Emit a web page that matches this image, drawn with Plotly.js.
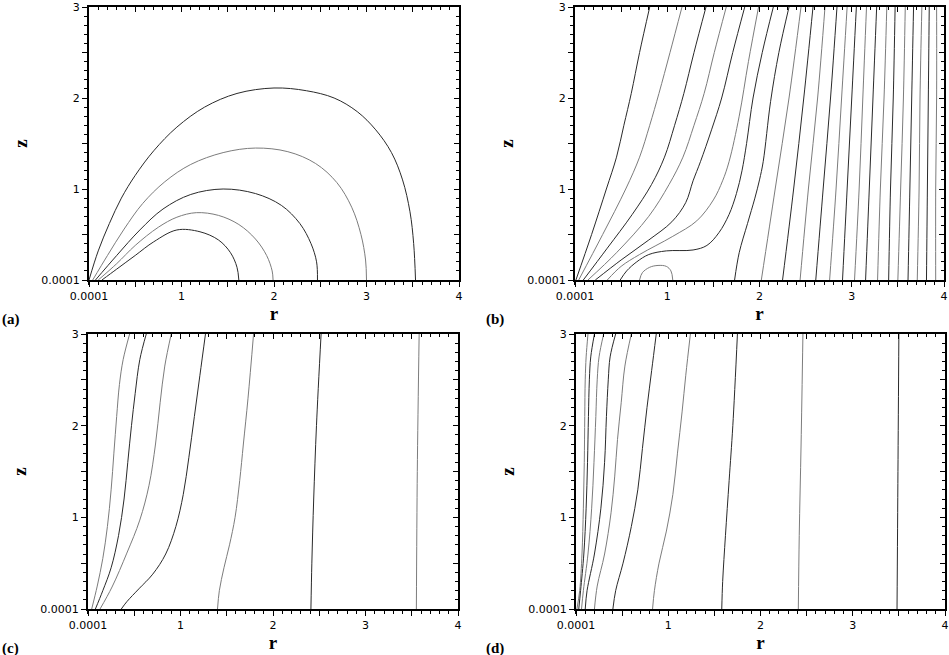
<!DOCTYPE html>
<html>
<head>
<meta charset="utf-8">
<script src="https://cdn.plot.ly/plotly-3.0.1.min.js"></script>
<style>html,body{margin:0;padding:0;background:#fff;}#chart{width:949px;height:655px;}</style>
</head>
<body>
<div id="chart"></div>
<script>
// ---------- tick labels ----------
const xTickVals = [0.0001, 0.5, 1, 1.5, 2, 2.5, 3, 3.5, 4];
const xTickText = ['0.0001', '', '1', '', '2', '', '3', '', '4'];
const yTickVals = [0.0001, 0.5, 1, 1.5, 2, 2.5, 3];
const yTickText = ['0.0001', '', '1', '', '2', '', '3'];
const panelLabels = ['(a)', '(b)', '(c)', '(d)'];

// ---------- panel (a): contour lines (r, z) ----------
const a_r = [
  [0.0001,0.1,0.22,0.35,0.5,0.7,0.95,1.25,1.6,2.0,2.35,2.65,2.9,3.1,3.27,3.39,3.47,3.51,3.53],
  [0.04,0.2,0.38,0.58,0.82,1.1,1.45,1.8,2.15,2.45,2.68,2.84,2.94,2.99,3.0],
  [0.07,0.3,0.55,0.8,1.1,1.45,1.8,2.08,2.28,2.4,2.46,2.47],
  [0.1,0.3,0.5,0.75,0.95,1.16,1.4,1.62,1.8,1.92,1.98,1.99],
  [0.14,0.3,0.5,0.7,0.95,1.2,1.4,1.53,1.6,1.62]
];
const a_z = [
  [0,0.32,0.62,0.9,1.15,1.42,1.68,1.9,2.05,2.11,2.08,2.0,1.85,1.65,1.4,1.1,0.75,0.4,0],
  [0,0.27,0.56,0.84,1.08,1.27,1.40,1.45,1.41,1.28,1.07,0.8,0.5,0.22,0],
  [0,0.27,0.55,0.78,0.94,1.0,0.95,0.82,0.62,0.4,0.2,0],
  [0,0.18,0.38,0.58,0.69,0.74,0.71,0.61,0.45,0.27,0.1,0],
  [0,0.12,0.27,0.42,0.55,0.53,0.44,0.3,0.14,0]
];

// ---------- panel (b): curved lines near the axis ----------
const b_r = [
  [0.01,0.18,0.34,0.45,0.53,0.61,0.70,0.81],
  [0.04,0.3,0.55,0.70,0.81,0.91,1.03,1.16],
  [0.09,0.35,0.62,0.83,0.97,1.08,1.18,1.29,1.42],
  [0.14,0.45,0.8,1.02,1.17,1.29,1.40,1.51,1.64],
  [0.22,0.5,0.8,1.05,1.2,1.28,1.36,1.48,1.59,1.71,1.84],
  [0.35,0.5,0.7,1.06,1.32,1.5,1.6,1.67,1.78,1.88,1.99],
  [0.49,0.56,0.67,0.8,0.99,1.28,1.43,1.56,1.67,1.75,1.81,1.86,1.93,2.03,2.15],
  [0.70,0.73,0.81,0.9,0.99,1.04,1.06],
  [1.73,1.78,1.87,1.95,2.0,2.04,2.12,2.21,2.32]
];
const b_z = [
  [0,0.5,1.0,1.35,1.7,2.05,2.5,3],
  [0,0.5,1.0,1.35,1.7,2.05,2.5,3],
  [0,0.35,0.72,1.05,1.35,1.7,2.05,2.5,3],
  [0,0.3,0.7,1.05,1.35,1.7,2.05,2.5,3],
  [0,0.22,0.44,0.64,0.85,1.09,1.3,1.65,2.0,2.5,3],
  [0,0.15,0.28,0.48,0.65,0.88,1.09,1.3,1.8,2.4,3],
  [0,0.1,0.2,0.28,0.32,0.33,0.38,0.52,0.72,0.95,1.2,1.5,2.0,2.5,3],
  [0,0.08,0.14,0.16,0.15,0.1,0],
  [0,0.3,0.62,0.9,1.1,1.3,1.96,2.5,3]
];
// ---------- panel (b): near-vertical lines, r at z = 0, 1, 2, 3 ----------
const b_vz = [0, 1, 2, 3];
const b_vr = [
  [2.02,2.17,2.32,2.45],
  [2.25,2.37,2.48,2.58],
  [2.44,2.53,2.63,2.71],
  [2.61,2.69,2.77,2.84],
  [2.76,2.83,2.89,2.95],
  [2.90,2.95,3.00,3.05],
  [3.03,3.08,3.12,3.16],
  [3.15,3.19,3.23,3.27],
  [3.28,3.31,3.35,3.38],
  [3.40,3.42,3.45,3.47],
  [3.50,3.53,3.56,3.58],
  [3.61,3.63,3.65,3.67],
  [3.71,3.73,3.74,3.76],
  [3.81,3.82,3.83,3.84],
  [3.91,3.91,3.92,3.92]
];

// ---------- panel (c) ----------
const c_r = [
  [0.04,0.1,0.16,0.21,0.25,0.28,0.31,0.34,0.38,0.45],
  [0.08,0.16,0.25,0.33,0.39,0.43,0.47,0.51,0.56,0.63],
  [0.13,0.26,0.42,0.56,0.66,0.73,0.78,0.83,0.90],
  [0.36,0.42,0.55,0.70,0.84,0.95,1.03,1.09,1.15,1.21,1.27],
  [1.40,1.42,1.47,1.53,1.59,1.64,1.68,1.73,1.79],
  [2.41,2.42,2.44,2.47,2.52],
  [3.55,3.56,3.58]
];
const c_z = [
  [0,0.25,0.55,0.9,1.3,1.7,2.1,2.45,2.72,3],
  [0,0.2,0.45,0.8,1.2,1.6,2.0,2.35,2.72,3],
  [0,0.24,0.61,0.97,1.35,1.8,2.25,2.65,3],
  [0,0.08,0.22,0.38,0.6,0.9,1.25,1.65,2.1,2.55,3],
  [0,0.2,0.45,0.7,1.0,1.4,1.8,2.3,3],
  [0,0.5,1.2,2.0,3],
  [0,1.5,3]
];

// ---------- panel (d) ----------
const d_r = [
  [0.01,0.04,0.065,0.08,0.09,0.095,0.10,0.11,0.13],
  [0.03,0.05,0.085,0.11,0.125,0.135,0.145,0.16,0.20],
  [0.06,0.08,0.13,0.17,0.195,0.215,0.23,0.25,0.30],
  [0.10,0.12,0.20,0.27,0.31,0.33,0.35,0.37,0.43],
  [0.20,0.23,0.31,0.38,0.42,0.45,0.49,0.53,0.60],
  [0.40,0.43,0.51,0.60,0.67,0.72,0.77,0.82,0.87],
  [0.83,0.85,0.90,0.98,1.05,1.10,1.15,1.19,1.24],
  [1.58,1.59,1.62,1.66,1.70,1.75],
  [2.41,2.42,2.44,2.46],
  [3.48,3.49,3.50]
];
const d_z = [
  [0,0.2,0.6,1.1,1.6,2.1,2.5,2.75,3],
  [0,0.2,0.6,1.1,1.6,2.1,2.5,2.75,3],
  [0,0.2,0.6,1.1,1.6,2.1,2.5,2.75,3],
  [0,0.2,0.6,1.1,1.6,2.1,2.5,2.75,3],
  [0,0.25,0.6,1.05,1.45,1.85,2.25,2.65,3],
  [0,0.2,0.5,0.9,1.3,1.75,2.2,2.6,3],
  [0,0.2,0.5,0.85,1.25,1.7,2.15,2.55,3],
  [0,0.3,0.8,1.4,2.0,3],
  [0,0.8,1.8,3],
  [0,1.5,3]
];

// ---------- build traces ----------
const traces = [];
function addLines(rs, zs, xa, ya, offset) {
  rs.forEach((r, i) => {
    traces.push({
      x: r, y: Array.isArray(zs[0]) ? zs[i] : zs,
      xaxis: xa, yaxis: ya, mode: 'lines', type: 'scatter',
      line: {color: ((i + offset) % 2) ? '#7c7c7c' : '#2a2a2a', width: 1, shape: 'spline', smoothing: 1},
      hoverinfo: 'skip', showlegend: false
    });
  });
}
addLines(a_r, a_z, 'x', 'y', 0);
addLines(b_r, b_z, 'x2', 'y2', 0);
addLines(b_vr, b_vz, 'x2', 'y2', 1);
addLines(c_r, c_z, 'x3', 'y3', 1);
addLines(d_r, d_z, 'x4', 'y4', 1);

// dummy traces so the mirrored (inside-tick) top/right axes get drawn
for (let k = 1; k <= 4; k++) {
  const xs = k === 1 ? 'x' : 'x' + k, ys = k === 1 ? 'y' : 'y' + k;
  traces.push({x: [null], y: [null], xaxis: 'x' + (k + 4), yaxis: ys, mode: 'lines', showlegend: false, hoverinfo: 'skip'});
  traces.push({x: [null], y: [null], xaxis: xs, yaxis: 'y' + (k + 4), mode: 'lines', showlegend: false, hoverinfo: 'skip'});
}

const W = 949, H = 655;
const xDom = [[89/W, 459/W], [575/W, 944/W], [88/W, 458/W], [576/W, 945/W]];
const yDom = [[1-280/H, 1-7/H], [1-280/H, 1-7/H], [1-609/H, 1-334/H], [1-609/H, 1-334/H]];

const tickFont = {family: 'DejaVu Sans, sans-serif', size: 11, color: '#000'};
const titleFont = {family: 'Liberation Serif, serif', size: 19, color: '#000'};

function mainX(k) {
  return {
    domain: xDom[k], anchor: k === 0 ? 'y' : 'y' + (k + 1), range: [0.0001, 4],
    tickmode: 'array', tickvals: xTickVals, ticktext: xTickText,
    ticks: 'outside', ticklen: 5, tickwidth: 1, tickcolor: '#000',
    minor: {tickmode: 'linear', tick0: 0, dtick: 0.1, ticks: 'outside', ticklen: 3, tickwidth: 1, tickcolor: '#000', showgrid: false},
    showline: true, linewidth: 2, linecolor: '#000', showgrid: false, zeroline: false,
    tickfont: tickFont, automargin: false, fixedrange: true, ticklabeloverflow: 'allow',
    title: {text: '<b>r</b>', font: titleFont, standoff: 4}
  };
}
function mainY(k) {
  return {
    domain: yDom[k], anchor: k === 0 ? 'x' : 'x' + (k + 1), range: [0.0001, 3],
    tickmode: 'array', tickvals: yTickVals, ticktext: yTickText,
    ticks: 'outside', ticklen: 5, tickwidth: 1, tickcolor: '#000',
    minor: {tickmode: 'linear', tick0: 0, dtick: 0.1, ticks: 'outside', ticklen: 3, tickwidth: 1, tickcolor: '#000', showgrid: false},
    showline: true, linewidth: 2, linecolor: '#000', showgrid: false, zeroline: false,
    tickfont: tickFont, automargin: false, fixedrange: true, ticklabeloverflow: 'allow',
    title: {text: '<b>z</b>', font: titleFont, standoff: 9}
  };
}
function topX(k) {
  return {
    overlaying: k === 0 ? 'x' : 'x' + (k + 1), anchor: k === 0 ? 'y' : 'y' + (k + 1), side: 'top',
    range: [0.0001, 4], tickmode: 'array', tickvals: xTickVals, showticklabels: false,
    ticks: 'inside', ticklen: 5, tickwidth: 1, tickcolor: '#000',
    minor: {tickmode: 'linear', tick0: 0, dtick: 0.1, ticks: 'inside', ticklen: 3, tickwidth: 1, tickcolor: '#000', showgrid: false},
    showline: true, linewidth: 2, linecolor: '#000', showgrid: false, zeroline: false, fixedrange: true
  };
}
function rightY(k) {
  return {
    overlaying: k === 0 ? 'y' : 'y' + (k + 1), anchor: k === 0 ? 'x' : 'x' + (k + 1), side: 'right',
    range: [0.0001, 3], tickmode: 'array', tickvals: yTickVals, showticklabels: false,
    ticks: 'inside', ticklen: 5, tickwidth: 1, tickcolor: '#000',
    minor: {tickmode: 'linear', tick0: 0, dtick: 0.1, ticks: 'inside', ticklen: 3, tickwidth: 1, tickcolor: '#000', showgrid: false},
    showline: true, linewidth: 2, linecolor: '#000', showgrid: false, zeroline: false, fixedrange: true
  };
}

const layout = {
  width: W, height: H, margin: {l: 0, r: 0, t: 0, b: 0},
  paper_bgcolor: '#fff', plot_bgcolor: '#fff', showlegend: false,
  annotations: panelLabels.map((t, k) => ({
    text: '<b>' + t + '</b>', xref: 'paper', yref: 'paper',
    x: k % 2 === 0 ? 0 : 484/W, y: k < 2 ? 1 - 320/H : 1 - 648/H,
    xanchor: 'left', yanchor: 'middle', showarrow: false,
    font: {family: 'Liberation Serif, serif', size: 15, color: '#000'}
  }))
};
for (let k = 0; k < 4; k++) {
  const sx = k === 0 ? '' : String(k + 1);
  layout['xaxis' + sx] = mainX(k);
  layout['yaxis' + sx] = mainY(k);
  layout['xaxis' + (k + 5)] = topX(k);
  layout['yaxis' + (k + 5)] = rightY(k);
}

Plotly.newPlot('chart', traces, layout, {staticPlot: true, displayModeBar: false});
</script>
</body>
</html>
